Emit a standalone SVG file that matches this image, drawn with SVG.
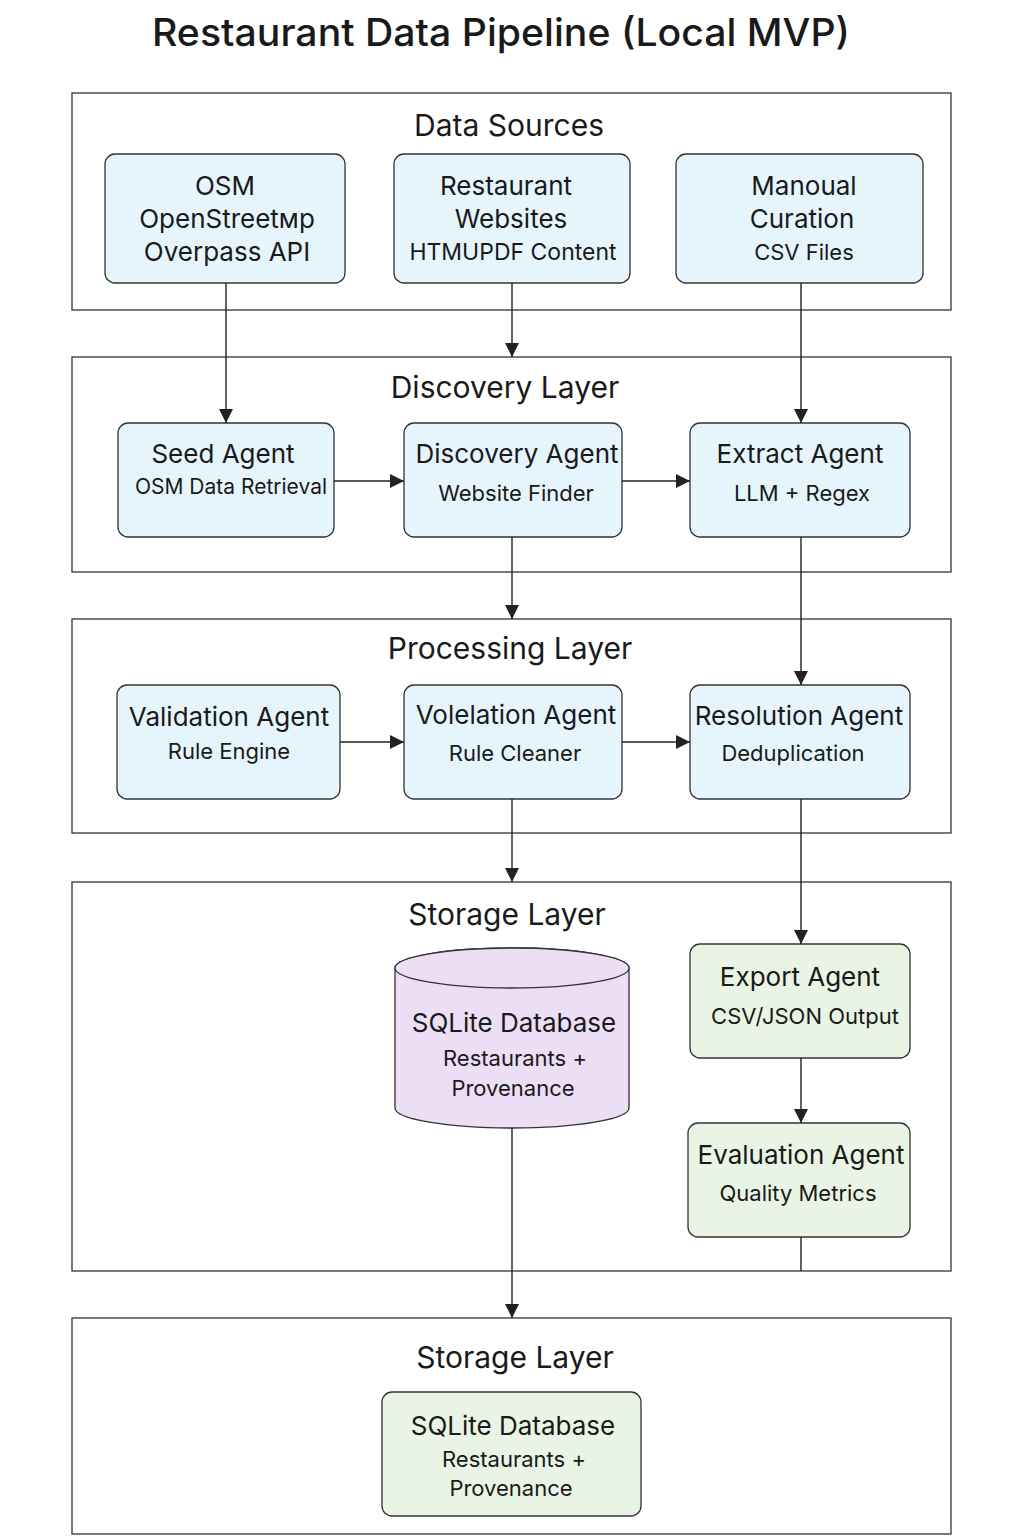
<svg xmlns="http://www.w3.org/2000/svg" width="1024" height="1536" viewBox="0 0 1024 1536">
<defs>
<marker id="arr" markerWidth="16" markerHeight="16" refX="14" refY="7" orient="auto" markerUnits="userSpaceOnUse">
<path d="M0,0 L14,7 L0,14 Z" fill="#222"/>
</marker>
<style>
text{font-family:Inter,"Noto Sans",sans-serif;fill:#1a1a1a;text-anchor:middle;dominant-baseline:central}
.layer{fill:#fff;stroke:#333;stroke-width:1.3}
.title{font-size:38px;font-weight:500}
.lt{font-size:30px}
.node{fill:#e6f4fc;stroke:#333;stroke-width:1.3}
.green{fill:#e9f4e4;stroke:#333;stroke-width:1.3}
.db{fill:#ecdff5;stroke:#333;stroke-width:1.3}
.h{font-size:26px}
.s{font-size:22px}
.conn{fill:none;stroke:#222;stroke-width:1.4}
</style>
</defs>
<rect width="1024" height="1536" fill="#fff"/>
<text class="title" x="501" y="32" textLength="698" lengthAdjust="spacingAndGlyphs">Restaurant Data Pipeline (Local MVP)</text>

<g id="layer-sources"><rect class="layer" x="72" y="93" width="879" height="217"/><text class="lt" x="509" y="125">Data Sources</text></g>
<g id="layer-discovery"><rect class="layer" x="72" y="357" width="879" height="215"/><text class="lt" x="505" y="387">Discovery Layer</text></g>
<g id="layer-processing"><rect class="layer" x="72" y="619" width="879" height="214"/><text class="lt" x="510" y="648">Processing Layer</text></g>
<g id="layer-storage"><rect class="layer" x="72" y="882" width="879" height="389"/><text class="lt" x="507" y="914">Storage Layer</text></g>
<g id="layer-storage2"><rect class="layer" x="72" y="1318" width="879" height="216"/><text class="lt" x="515" y="1357">Storage Layer</text></g>

<g id="osm"><rect class="node" x="105" y="154" width="240" height="129" rx="10"/>
<text class="h" x="225" y="185">OSM</text><text class="h" x="227" y="218">OpenStreetмp</text><text class="h" x="227" y="251">Overpass API</text></g>
<g id="websites"><rect class="node" x="394" y="154" width="236" height="129" rx="10"/>
<text class="h" x="506" y="185">Restaurant</text><text class="h" x="511" y="218">Websites</text><text class="s" x="513" y="252" style="font-size:23px">HTMUPDF Content</text></g>
<g id="manual"><rect class="node" x="676" y="154" width="247" height="129" rx="10"/>
<text class="h" x="804" y="185">Manoual</text><text class="h" x="802" y="218">Curation</text><text class="s" x="804" y="252">CSV Files</text></g>

<g id="seed"><rect class="node" x="118" y="423" width="216" height="114" rx="10"/>
<text class="h" x="223" y="453">Seed Agent</text><text class="s" x="231" y="486" style="font-size:21px">OSM Data Retrieval</text></g>
<g id="discovery"><rect class="node" x="404" y="423" width="218" height="114" rx="10"/>
<text class="h" x="517" y="453">Discovery Agent</text><text class="s" x="516" y="493">Website Finder</text></g>
<g id="extract"><rect class="node" x="690" y="423" width="220" height="114" rx="10"/>
<text class="h" x="800" y="453">Extract Agent</text><text class="s" x="802" y="493">LLM + Regex</text></g>

<g id="validation"><rect class="node" x="117" y="685" width="223" height="114" rx="10"/>
<text class="h" x="229" y="716">Validation Agent</text><text class="s" x="229" y="751">Rule Engine</text></g>
<g id="volelation"><rect class="node" x="404" y="685" width="218" height="114" rx="10"/>
<text class="h" x="516" y="714">Volelation Agent</text><text class="s" x="515" y="753">Rule Cleaner</text></g>
<g id="resolution"><rect class="node" x="690" y="685" width="220" height="114" rx="10"/>
<text class="h" x="799" y="715">Resolution Agent</text><text class="s" x="793" y="753">Deduplication</text></g>

<g id="sqlite-db">
<path class="db" d="M395,968 L395,1108 A117,20 0 0 0 629,1108 L629,968 A117,20 0 0 0 395,968 Z"/>
<ellipse class="db" cx="512" cy="968" rx="117" ry="20"/>
<text class="h" x="514" y="1022">SQLite Database</text><text class="s" x="515" y="1058">Restaurants +</text><text class="s" x="513" y="1088">Provenance</text></g>
<g id="export"><rect class="green" x="690" y="944" width="220" height="114" rx="10"/>
<text class="h" x="800" y="976">Export Agent</text><text class="s" x="805" y="1016">CSV/JSON Output</text></g>
<g id="evaluation"><rect class="green" x="688" y="1123" width="222" height="114" rx="10"/>
<text class="h" x="801" y="1154">Evaluation Agent</text><text class="s" x="798" y="1193">Quality Metrics</text></g>

<g id="sqlite-final"><rect class="green" x="382" y="1392" width="259" height="124" rx="10"/>
<text class="h" x="513" y="1425">SQLite Database</text><text class="s" x="514" y="1459">Restaurants +</text><text class="s" x="511" y="1488">Provenance</text></g>

<g id="connectors">
<path class="conn" d="M226,283 V423" marker-end="url(#arr)"/>
<path class="conn" d="M512,283 V357" marker-end="url(#arr)"/>
<path class="conn" d="M801,283 V423" marker-end="url(#arr)"/>
<path class="conn" d="M334,481 H404" marker-end="url(#arr)"/>
<path class="conn" d="M622,481 H690" marker-end="url(#arr)"/>
<path class="conn" d="M512,537 V619" marker-end="url(#arr)"/>
<path class="conn" d="M801,537 V685" marker-end="url(#arr)"/>
<path class="conn" d="M340,742 H404" marker-end="url(#arr)"/>
<path class="conn" d="M622,742 H690" marker-end="url(#arr)"/>
<path class="conn" d="M512,799 V882" marker-end="url(#arr)"/>
<path class="conn" d="M801,799 V944" marker-end="url(#arr)"/>
<path class="conn" d="M801,1058 V1123" marker-end="url(#arr)"/>
<path class="conn" d="M512,1128 V1318" marker-end="url(#arr)"/>
<path class="conn" d="M801,1237 V1271"/>
</g>
</svg>
